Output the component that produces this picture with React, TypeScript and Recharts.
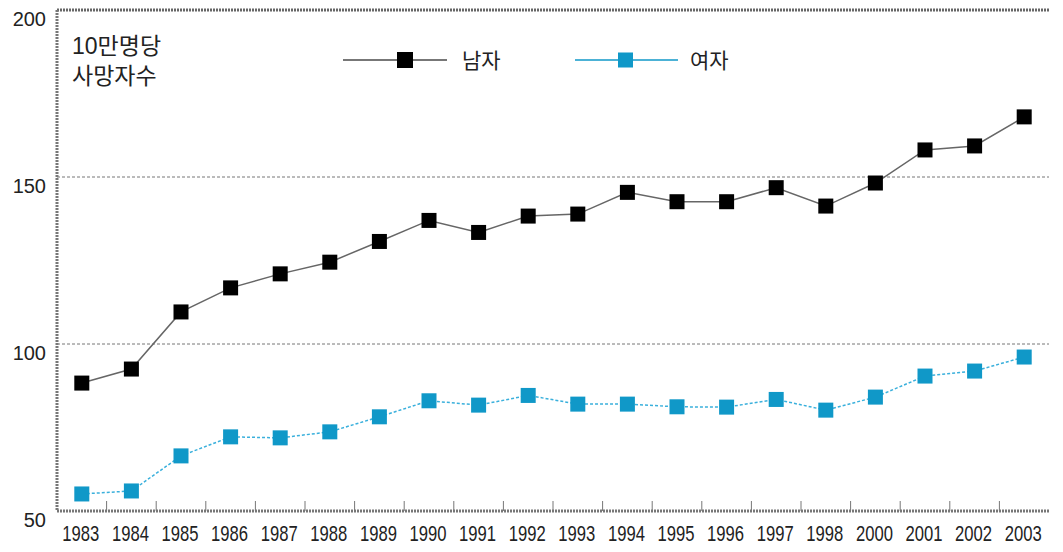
import React from 'react';
import { LineChart, Line, XAxis, YAxis, CartesianGrid, ReferenceLine, Legend } from 'recharts';

const YEARS = ['1983', '1984', '1985', '1986', '1987', '1988', '1989', '1990', '1991', '1992',
  '1993', '1994', '1995', '1996', '1997', '1998', '2000', '2001', '2002', '2003'];
const MALE = [88.3, 92.5, 109.6, 116.8, 121, 124.5, 130.7, 137, 133.4, 138.3,
  138.9, 145.4, 142.6, 142.6, 146.8, 141.3, 148.2, 158.1, 159.3, 168];
const FEMALE = [55.1, 56, 66.5, 72.2, 71.9, 73.7, 78.2, 83, 81.7, 84.6,
  82, 82, 81.2, 81.1, 83.4, 80.2, 84.1, 90.4, 91.9, 96.1];
const Y_TICKS = [50, 100, 150, 200];

const MALE_COLOR = '#000';
const FEMALE_COLOR = '#1098c8';

const W = 1063;
const H = 552;
const PLOT_LEFT = 57;
const PLOT_RIGHT = 14;
const BAND = (W - PLOT_LEFT - PLOT_RIGHT) / YEARS.length;

const data = YEARS.map((year, i) => ({ year, male: MALE[i], female: FEMALE[i] }));

const squareDot = (color: string) => (props: any) => {
  const { cx, cy, index } = props;
  if (cx == null || cy == null) return <g key={index} />;
  return <rect key={index} x={cx - 7.5} y={cy - 7.5} width={15} height={15} fill={color} />;
};

const XTick = (props: any) => {
  const { x, y, payload, index } = props;
  return (
    <g>
      {index < YEARS.length - 1 && (
        <line x1={x + BAND / 2} x2={x + BAND / 2} y1={y} y2={y - 10} stroke="#777" strokeWidth={1} />
      )}
      <text x={x - 1} y={y + 30} textAnchor="middle" fontSize={22} fill="#222"
        textLength={37} lengthAdjust="spacingAndGlyphs"
        style={{ fontFamily: '"Liberation Sans", Arial, sans-serif' }}>
        {payload.value}
      </text>
    </g>
  );
};

const YTick = (props: any) => {
  const { x, y, payload } = props;
  return (
    <text x={x} y={y + 16} textAnchor="end" fontSize={20} fill="#222"
      style={{ fontFamily: '"Liberation Sans", Arial, sans-serif' }}>
      {payload.value}
    </text>
  );
};

const LegendContent = () => (
  <svg width={420} height={30} style={{ fontFamily: '"Noto Sans CJK KR", sans-serif' }}>
    <line x1={3} x2={107} y1={15} y2={15} stroke="#777" strokeWidth={2} />
    <rect x={57} y={7} width={16} height={16} fill={MALE_COLOR} />
    <text x={122} y={23} fontSize={21} fill="#222">남자</text>
    <line x1={235} x2={338} y1={15} y2={15} stroke={FEMALE_COLOR} strokeWidth={1.5} />
    <rect x={278} y={7.5} width={15} height={15} fill={FEMALE_COLOR} />
    <text x={350} y={23} fontSize={21} fill="#222">여자</text>
  </svg>
);

export default function App() {
  return (
    <div style={{ position: 'absolute', left: 0, top: 0, width: W, height: H, background: '#fff' }}>
      <LineChart width={W} height={H} data={data} margin={{ top: 10, right: PLOT_RIGHT, bottom: 0, left: 0 }}>
        <CartesianGrid horizontal vertical={false} stroke="#777" strokeDasharray="3 2" horizontalValues={[100, 150]} />
        <ReferenceLine y={200} stroke="#666" strokeWidth={3} strokeDasharray="2 1" />
        <XAxis
          dataKey="year"
          scale="point"
          padding={{ left: BAND / 2, right: BAND / 2 }}
          height={H - 511}
          tick={<XTick />}
          tickSize={0}
          tickMargin={0}
          tickLine={false}
          interval={0}
          axisLine={{ stroke: '#777', strokeWidth: 3, strokeDasharray: '2 1' }}
        />
        <YAxis
          domain={[50, 200]}
          ticks={Y_TICKS}
          width={PLOT_LEFT}
          tick={<YTick />}
          tickSize={0}
          tickMargin={11}
          tickLine={false}
          axisLine={{ stroke: '#777', strokeWidth: 3, strokeDasharray: '2 1' }}
        />
        <Legend
          verticalAlign="middle"
          align="center"
          content={<LegendContent />}
          wrapperStyle={{ top: 45, left: 340, width: 420, height: 30 }}
        />
        <Line
          dataKey="male"
          name="남자"
          stroke="#666"
          strokeWidth={1.5}
          dot={squareDot(MALE_COLOR)}
          activeDot={false}
          isAnimationActive={false}
        />
        <Line
          dataKey="female"
          name="여자"
          stroke="#3ab0dc"
          strokeWidth={1.5}
          strokeDasharray="3 2"
          dot={squareDot(FEMALE_COLOR)}
          activeDot={false}
          isAnimationActive={false}
        />
      </LineChart>
      <div style={{
        position: 'absolute', left: 72, top: 31, fontSize: 23, lineHeight: '30px', color: '#222',
        fontFamily: '"Liberation Sans", "Noto Sans CJK KR", sans-serif',
      }}>
        10만명당<br />사망자수
      </div>
    </div>
  );
}
